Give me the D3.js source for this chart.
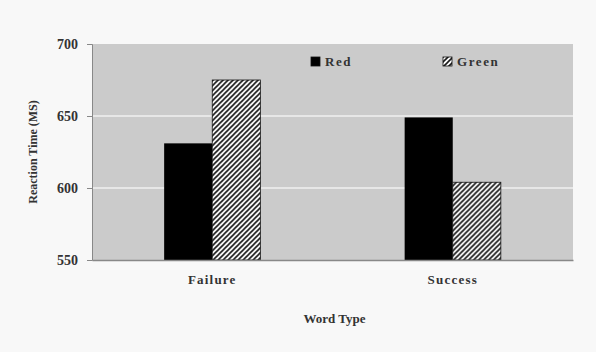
<!DOCTYPE html>
<html><head><meta charset="utf-8">
<script src="https://cdn.jsdelivr.net/npm/d3@7"></script>
<style>body{margin:0;background:#f8f8f8;}svg{display:block;}</style>
</head><body>
<svg id="c" width="596" height="352"></svg>
<script>
const categories = ["Failure", "Success"];
const seriesNames = ["Red", "Green"];
const redValues = [631, 649];
const greenValues = [675, 604];
const yTicks = [550, 600, 650, 700];

const svg = d3.select("#c");
const W = 596, H = 352;
const m = {left: 92, right: 23, top: 44, bottom: 92};
const pw = W - m.left - m.right, ph = H - m.top - m.bottom;
const font = "'Liberation Serif', 'Times New Roman', serif";

svg.append("rect").attr("width", W).attr("height", H).attr("fill", "#f8f8f8");

const defs = svg.append("defs");
const pat = defs.append("pattern").attr("id", "hatch").attr("patternUnits", "userSpaceOnUse")
  .attr("width", 5).attr("height", 5);
pat.append("rect").attr("width", 5).attr("height", 5).attr("fill", "#fff");
pat.append("path").attr("d", "M-1,1 l2,-2 M0,5 l5,-5 M4,6 l2,-2").attr("stroke", "#1a1a1a").attr("stroke-width", 1.6);

const g = svg.append("g").attr("transform", `translate(${m.left},${m.top})`);

const x0 = d3.scaleBand().domain(categories).range([0, pw]).paddingInner(0.6).paddingOuter(0.3);
const x1 = d3.scaleBand().domain(seriesNames).range([0, x0.bandwidth()]);
const y = d3.scaleLinear().domain([550, 700]).range([ph, 0]);

g.append("rect").attr("width", pw).attr("height", ph).attr("fill", "#cbcbcb");

// gridlines
g.selectAll(".grid").data(yTicks.filter(t => t > 550 && t < 700)).enter().append("line")
  .attr("x1", 0).attr("x2", pw).attr("y1", d => y(d)).attr("y2", d => y(d))
  .attr("stroke", "#f0f0f0").attr("stroke-width", 1.5);

const data = categories.map((c, i) => ({cat: c, vals: [{s: "Red", v: redValues[i]}, {s: "Green", v: greenValues[i]}]}));

const grp = g.selectAll(".cat").data(data).enter().append("g")
  .attr("transform", d => `translate(${x0(d.cat)},0)`);
grp.selectAll("rect").data(d => d.vals).enter().append("rect")
  .attr("x", d => x1(d.s)).attr("width", x1.bandwidth())
  .attr("y", d => y(d.v)).attr("height", d => ph - y(d.v))
  .attr("fill", d => d.s === "Red" ? "#000" : "url(#hatch)")
  .attr("stroke", "#111").attr("stroke-width", d => d.s === "Red" ? 0 : 0.8);

// y axis
const ya = d3.axisLeft(y).tickValues(yTicks).tickSize(5).tickPadding(9);
const yg = g.append("g").call(ya);
yg.select(".domain").attr("stroke", "#888");
yg.selectAll(".tick line").attr("stroke", "#888");
yg.selectAll("text").attr("font-family", font).attr("font-weight", "bold").attr("font-size", 14).attr("fill", "#333");

// x axis
const xa = d3.axisBottom(x0).tickSize(0).tickPadding(15);
const xg = g.append("g").attr("transform", `translate(0,${ph})`).call(xa);
xg.select(".domain").attr("stroke", "#888").attr("stroke-width", 1.5);
xg.selectAll("text").attr("font-family", font).attr("font-weight", "bold").attr("font-size", 13)
  .attr("fill", "#333").attr("letter-spacing", "1.2px");

// axis titles
svg.append("text").attr("x", m.left + pw / 2 + 2).attr("y", 323).attr("text-anchor", "middle")
  .attr("font-family", font).attr("font-weight", "bold").attr("font-size", 13).attr("fill", "#333")
  .text("Word Type");
svg.append("text").attr("transform", `translate(37,${m.top + ph / 2}) rotate(-90)`).attr("text-anchor", "middle")
  .attr("font-family", font).attr("font-weight", "bold").attr("font-size", 12).attr("fill", "#333")
  .text("Reaction Time (MS)");

// legend
const legX = [311, 443];
const leg = svg.selectAll(".leg").data(seriesNames).enter().append("g")
  .attr("transform", (d, i) => `translate(${legX[i]},57)`);
leg.append("rect").attr("width", 9).attr("height", 9)
  .attr("fill", d => d === "Red" ? "#000" : "url(#hatch)").attr("stroke", "#111").attr("stroke-width", 0.8);
leg.append("text").attr("x", 14).attr("y", 9).attr("font-family", font).attr("font-weight", "bold")
  .attr("font-size", 13).attr("fill", "#333").attr("letter-spacing", "1.6px").text(d => d);
</script>
</body></html>
